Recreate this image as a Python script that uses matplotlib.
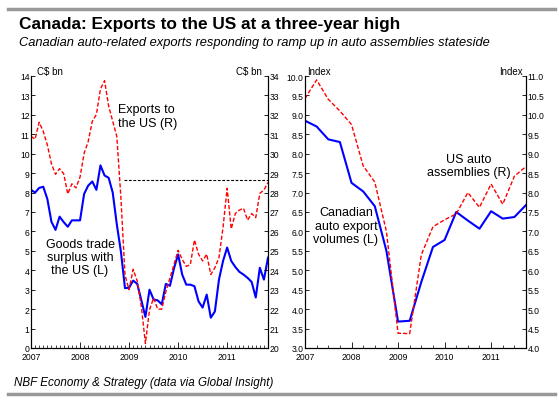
import numpy as np
import matplotlib
matplotlib.use("Agg")
import matplotlib.pyplot as plt
from matplotlib.ticker import MultipleLocator, FormatStrFormatter
from matplotlib.lines import Line2D

# ---------------- data ----------------
# left panel: monthly, Jan 2007 .. Nov 2011
surplus = [8.14, 8.0, 8.24, 8.3, 7.67, 6.5, 6.08, 6.76, 6.48, 6.24, 6.57, 6.57,
           6.57, 7.93, 8.36, 8.57, 8.14, 9.4, 8.88, 8.76, 8.0, 6.36, 4.97, 3.08,
           3.1, 3.47, 3.3, 2.46, 1.6, 3.0, 2.5, 2.45, 2.25, 3.3, 3.2, 4.1,
           4.82, 3.78, 3.26, 3.26, 3.18, 2.4, 2.08, 2.75, 1.56, 1.88, 3.52, 4.48,
           5.17, 4.48, 4.17, 3.92, 3.78, 3.61, 3.4, 2.6, 4.13, 3.52, 4.65]
exports = [30.89, 30.75, 31.62, 31.15, 30.45, 29.49, 28.94, 29.23, 28.97, 27.93, 28.45, 28.24,
           28.8, 30.02, 30.63, 31.67, 32.02, 33.33, 33.76, 32.46, 31.67, 30.89, 27.75, 23.75,
           23.0, 24.05, 23.44, 22.14, 20.23, 21.97, 22.57, 22.0, 22.0, 22.9, 23.6, 24.3,
           25.03, 24.56, 24.2, 24.3, 25.56, 24.83, 24.48, 24.83, 23.78, 24.13, 24.65, 26.22,
           28.22, 26.13, 26.92, 27.1, 27.19, 26.58, 26.92, 26.71, 27.96, 28.13, 28.52]
three_year_high = 28.65

# right panel: quarterly, Q1 2007 .. Q4 2011
auto_exports = [8.85, 8.7, 8.37, 8.3, 7.25, 7.03, 6.65, 5.5, 3.68, 3.7,
                4.7, 5.6, 5.78, 6.5, 6.28, 6.07, 6.52, 6.33, 6.37, 6.68]
us_assemblies = [10.42, 10.9, 10.4, 10.1, 9.75, 8.69, 8.27, 7.0, 4.38, 4.37,
                 6.4, 7.12, 7.3, 7.45, 8.0, 7.62, 8.22, 7.7, 8.42, 8.67]

years = [2007, 2008, 2009, 2010, 2011]

xm = 2007 + np.arange(len(surplus)) / 12.0
xq = 2007 + np.arange(len(auto_exports)) / 4.0

plt.rcParams["font.family"] = ["Liberation Sans", "DejaVu Sans"]
TICK_FS = 6.2
NOTE_FS = 9

fig = plt.figure(figsize=(5.59, 4.06), dpi=100)

def style(ax, axr):
    for a in (ax, axr):
        a.spines["top"].set_visible(False)
        a.tick_params(direction="in", length=3, width=0.6, pad=1, labelsize=TICK_FS)
    ax.xaxis.set_major_locator(plt.FixedLocator(years))
    ax.xaxis.set_major_formatter(FormatStrFormatter("%d"))
    ax.tick_params(axis="x", which="major", length=4, pad=3)
    ax.tick_params(axis="x", which="minor", direction="in", length=2, width=0.5)

# ---------------- left panel ----------------
ax1 = fig.add_axes([31/559, 1-349/406, 237/559, 272/406])
ax1b = ax1.twinx()
ax1.plot(xm, surplus, color="#0000ff", lw=1.5)
ax1b.plot(xm, exports, color="#ff0000", lw=1.0, ls=(0, (3, 1.5)))
ax1b.plot([2007 + 22.8/12, xm[-1]], [three_year_high, three_year_high],
          color="black", lw=0.8, ls=(0, (2.5, 1.5)))
ax1.set_xlim(2007, xm[-1])
ax1.set_ylim(0, 14)
ax1b.set_ylim(20, 34)
ax1.yaxis.set_major_locator(MultipleLocator(1))
ax1b.yaxis.set_major_locator(MultipleLocator(1))
ax1.xaxis.set_minor_locator(MultipleLocator(1/12))
style(ax1, ax1b)
ax1.text(0.025, 1.0, "C$ bn", transform=ax1.transAxes, fontsize=7, va="bottom")
ax1.text(0.975, 1.0, "C$ bn", transform=ax1.transAxes, fontsize=7, va="bottom", ha="right")
ax1.text(0.365, 0.9, "Exports to\nthe US (R)", transform=ax1.transAxes, fontsize=NOTE_FS,
         va="top", ha="left", linespacing=1.15)
ax1.text(0.207, 0.335, "Goods trade\nsurplus with\nthe US (L)", transform=ax1.transAxes,
         fontsize=NOTE_FS, va="center", ha="center", linespacing=1.15)

# ---------------- right panel ----------------
ax2 = fig.add_axes([305/559, 1-349/406, 221/559, 272/406])
ax2b = ax2.twinx()
ax2.plot(xq, auto_exports, color="#0000ff", lw=1.5)
ax2b.plot(xq, us_assemblies, color="#ff0000", lw=1.0, ls=(0, (3, 1.5)))
ax2.set_xlim(2007, xq[-1])
ax2.set_ylim(3, 10)
ax2b.set_ylim(4, 11)
ax2.yaxis.set_major_locator(MultipleLocator(0.5))
ax2b.yaxis.set_major_locator(MultipleLocator(0.5))
ax2.yaxis.set_major_formatter(FormatStrFormatter("%.1f"))
ax2b.yaxis.set_major_formatter(FormatStrFormatter("%.1f"))
ax2.xaxis.set_minor_locator(MultipleLocator(0.25))
style(ax2, ax2b)
ax2.text(0.01, 1.0, "Index", transform=ax2.transAxes, fontsize=7, va="bottom")
ax2.text(0.985, 1.0, "Index", transform=ax2.transAxes, fontsize=7, va="bottom", ha="right")
ax2.text(0.185, 0.45, "Canadian\nauto export\nvolumes (L)", transform=ax2.transAxes,
         fontsize=NOTE_FS, va="center", ha="center", linespacing=1.15)
ax2.text(0.74, 0.67, "US auto\nassemblies (R)", transform=ax2.transAxes,
         fontsize=NOTE_FS, va="center", ha="center", linespacing=1.15)

# ---------------- titles / frame ----------------
fig.text(19/559, 1-24/406, "Canada: Exports to the US at a three-year high",
         fontsize=12.4, fontweight="bold", va="center", ha="left")
fig.text(19/559, 1-43/406,
         "Canadian auto-related exports responding to ramp up in auto assemblies stateside",
         fontsize=9.3, style="italic", va="center", ha="left")
fig.text(14/559, 1-383/406, "NBF Economy & Strategy (data via Global Insight)",
         fontsize=8.4, style="italic", va="center", ha="left")
for yy in (10, 395):
    fig.add_artist(Line2D([8/559, 555/559], [1-yy/406, 1-yy/406],
                          color="#999999", lw=2.5, transform=fig.transFigure))

fig.savefig("out.png", dpi=100)
